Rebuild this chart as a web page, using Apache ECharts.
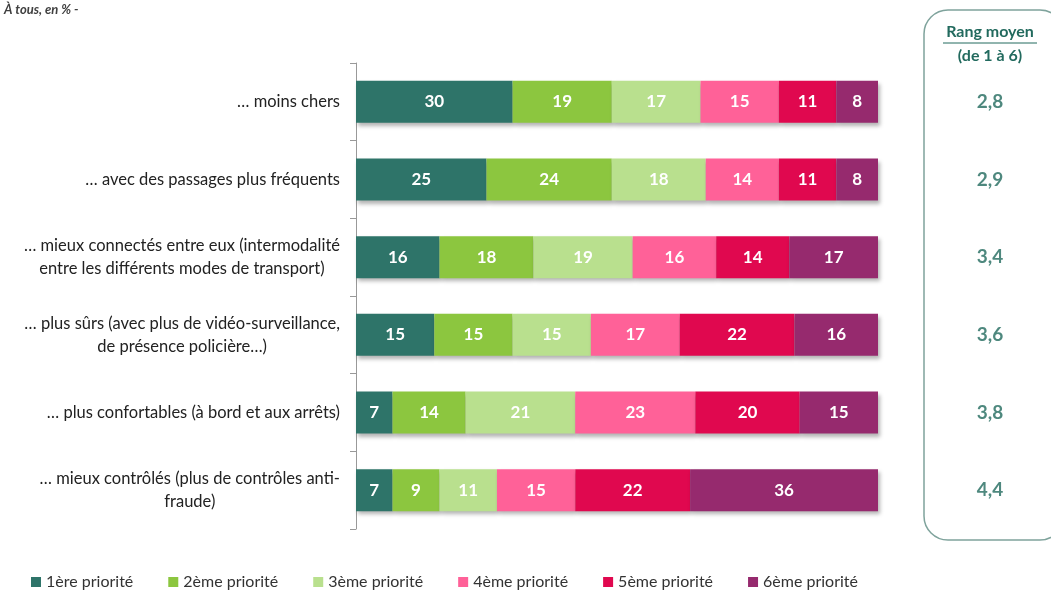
<!DOCTYPE html>
<html>
<head>
<meta charset="utf-8">
<script src="https://cdn.jsdelivr.net/npm/echarts@6/dist/echarts.min.js"></script>
<style>
html, body { margin: 0; padding: 0; background: #fff; }
#chart { width: 1051px; height: 592px; }
</style>
</head>
<body>
<div id="chart"></div>
<script>
var categories = [
    '… moins chers',
    '… avec des passages plus fréquents',
    '… mieux connectés entre eux (intermodalité\nentre les différents modes de transport)',
    '… plus sûrs (avec plus de vidéo-surveillance,\nde présence policière…)',
    '… plus confortables (à bord et aux arrêts)',
    '… mieux contrôlés (plus de contrôles anti-\nfraude)'
];
var seriesNames = ['1ère priorité', '2ème priorité', '3ème priorité', '4ème priorité', '5ème priorité', '6ème priorité'];
var p1 = [30, 25, 16, 15, 7, 7];
var p2 = [19, 24, 18, 15, 14, 9];
var p3 = [17, 18, 19, 15, 21, 11];
var p4 = [15, 14, 16, 17, 23, 15];
var p5 = [11, 11, 14, 22, 20, 22];
var p6 = [8, 8, 17, 16, 15, 36];
var rangMoyen = ['2,8', '2,9', '3,4', '3,6', '3,8', '4,4'];

var colors = ['#2e7469', '#8cc63f', '#b9e08e', '#ff6198', '#e0084f', '#962a6e'];
var font = 'Lato, "Open Sans", sans-serif';

window.onload = function () {
    var myChart = echarts.init(document.getElementById('chart'));
    var values = [p1, p2, p3, p4, p5, p6];

    var series = values.map(function (d, i) {
        return {
            name: seriesNames[i],
            type: 'bar',
            stack: 'total',
            barWidth: 42,
            xAxisIndex: 0,
            yAxisIndex: 0,
            itemStyle: {
                color: colors[i],
                shadowBlur: 4,
                shadowOffsetX: 2,
                shadowOffsetY: 3,
                shadowColor: 'rgba(0,0,0,0.3)'
            },
            label: {
                show: true,
                color: '#fff',
                fontFamily: font,
                fontWeight: 'bold',
                fontSize: 17
            },
            data: d
        };
    });

    // colonne "rang moyen"
    series.push({
        type: 'scatter',
        xAxisIndex: 1,
        yAxisIndex: 1,
        symbolSize: 0,
        label: {
            show: true,
            position: 'inside',
            formatter: function (p) { return rangMoyen[p.dataIndex]; },
            color: '#226a5e',
            fontFamily: font,
            fontWeight: 'bold',
            fontSize: 19
        },
        data: rangMoyen.map(function (v, i) { return [0.5, i]; })
    });

    var option = {
        animation: false,
        color: colors,
        grid: [
            { left: 356, right: 173, top: 63, height: 466 },
            { left: 930, width: 120, top: 63, height: 466 }
        ],
        legend: {
            data: seriesNames,
            bottom: -3,
            left: 26,
            itemGap: 35,
            itemWidth: 10,
            itemHeight: 10,
            icon: 'rect',
            textStyle: { color: '#333', fontFamily: font, fontSize: 16 }
        },
        xAxis: [
            { type: 'value', min: 0, max: 100, show: false, gridIndex: 0 },
            { type: 'value', min: 0, max: 1, show: false, gridIndex: 1 }
        ],
        yAxis: [
            {
                type: 'category',
                gridIndex: 0,
                inverse: true,
                data: categories,
                axisLine: { show: true, lineStyle: { color: '#999' } },
                axisTick: { show: true, length: 6, lineStyle: { color: '#999' } },
                axisLabel: {
                    margin: 16,
                    color: '#222',
                    fontFamily: font,
                    fontSize: 16.5,
                    lineHeight: 23,
                    formatter: function (v) {
                        return v.split('\n').map(function (l) { return '{c|' + l + '}'; }).join('\n');
                    },
                    rich: { c: { align: 'center', fontFamily: font, fontSize: 16.5, color: '#222', lineHeight: 23 } }
                }
            },
            {
                type: 'category',
                gridIndex: 1,
                inverse: true,
                data: categories,
                show: false
            }
        ],
        graphic: [
            {
                type: 'text',
                left: 4,
                top: 3,
                style: {
                    text: 'À tous, en % -',
                    fill: '#404040',
                    font: 'italic bold 13px ' + font
                }
            },
            {
                type: 'rect',
                shape: { x: 924, y: 10, width: 140, height: 530, r: 24 },
                style: { fill: 'none', stroke: '#7fa39c', lineWidth: 1.5 }
            },
            {
                type: 'text',
                x: 990,
                y: 24,
                style: {
                    text: 'Rang moyen',
                    fill: '#226a5e',
                    align: 'center',
                    font: 'bold 16px ' + font
                }
            },
            {
                type: 'line',
                shape: { x1: 943, y1: 43, x2: 1037, y2: 43 },
                style: { stroke: '#226a5e', lineWidth: 1 }
            },
            {
                type: 'text',
                x: 990,
                y: 48,
                style: {
                    text: '(de 1 à 6)',
                    fill: '#226a5e',
                    align: 'center',
                    font: 'bold 16px ' + font
                }
            }
        ],
        series: series
    };
    myChart.setOption(option);

    window.onresize = function () {
        myChart.resize();
    };
};
</script>
</body>
</html>
